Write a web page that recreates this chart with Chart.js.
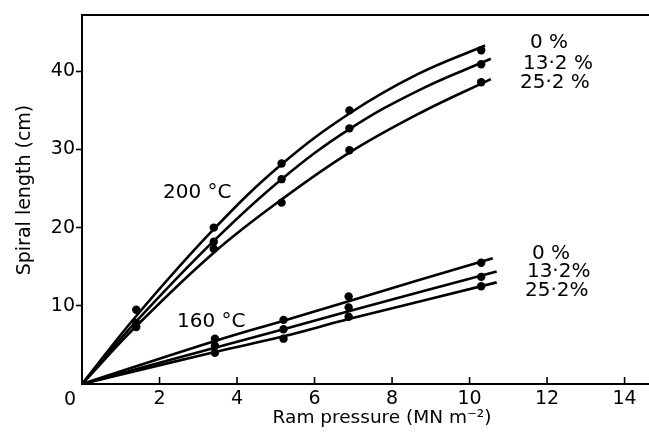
<!DOCTYPE html>
<html>
<head>
<meta charset="utf-8">
<script src="https://cdn.jsdelivr.net/npm/chart.js@4/dist/chart.umd.min.js"></script>
<style>
  html, body { margin: 0; padding: 0; background: #fff; }
  #box { width: 649px; height: 437px; position: relative; }
</style>
</head>
<body>
<div id="box"><canvas id="myChart"></canvas></div>
<script>
// tick values
const xTicks = [0, 2, 4, 6, 8, 10, 12, 14];
const yTicks = [10, 20, 30, 40];

// measured points, 200 C
const dot200x = [1.4, 3.4, 5.15, 6.9, 10.3];
const dot200_0 = [9.5, 20.0, 28.2, 35.0, 42.7];
const dot200_13 = [7.8, 18.2, 26.2, 32.7, 40.9];
const dot200_25 = [7.3, 17.3, 23.2, 29.9, 38.6];

// measured points, 160 C
const dot160x = [3.43, 5.2, 6.88, 10.3];
const dot160_0 = [5.8, 8.2, 11.2, 15.5];
const dot160_13 = [4.9, 7.0, 9.8, 13.7];
const dot160_25 = [4.0, 5.8, 8.6, 12.5];

// fitted curves
const fit200_0x = [0, 1.4, 3.4, 5.15, 6.9, 8.65, 10.4];
const fit200_0y = [0, 8.7, 19.8, 28.1, 34.6, 39.6, 43.3];
const fit200_13x = [0, 1.4, 3.4, 5.15, 6.9, 8.7, 10.55];
const fit200_13y = [0, 8.0, 18.3, 26.2, 32.6, 37.6, 41.6];
const fit200_25x = [0, 1.4, 3.4, 5.15, 6.9, 8.7, 10.55];
const fit200_25y = [0, 7.4, 16.8, 23.6, 29.6, 34.6, 39.0];

const fit160_0x = [0, 3.43, 5.2, 6.88, 10.6];
const fit160_0y = [0, 5.5, 8.1, 10.6, 16.1];
const fit160_13x = [0, 3.43, 5.2, 6.88, 10.7];
const fit160_13y = [0, 4.65, 7.0, 9.3, 14.4];
const fit160_25x = [0, 3.43, 5.2, 6.88, 10.7];
const fit160_25y = [0, 4.1, 6.1, 8.3, 13.0];

const FONT = "'DejaVu Sans', sans-serif";

const pts = (xs, ys) => xs.map((x, i) => ({x: x, y: ys[i]}));

const curve = (xs, ys) => ({
	data: pts(xs, ys),
	showLine: true,
	borderColor: '#000',
	borderWidth: 2.6,
	pointRadius: 0,
	tension: 0.4,
	fill: false
});

const dots = (xs, ys) => ({
	data: pts(xs, ys),
	showLine: false,
	backgroundColor: '#000',
	borderColor: '#000',
	pointRadius: 4.2,
	pointBorderWidth: 0
});

// frame, inward x ticks, titles and curve labels
const extras = {
	id: 'extras',
	afterDraw(chart) {
		const ctx = chart.ctx;
		const a = chart.chartArea;
		const xs = chart.scales.x, ys = chart.scales.y;
		ctx.save();
		ctx.strokeStyle = '#000';
		ctx.lineWidth = 2;
		ctx.beginPath();
		ctx.moveTo(a.left, a.top);
		ctx.lineTo(chart.width, a.top);
		ctx.stroke();

		ctx.lineWidth = 1.6;
		xTicks.forEach(v => {
			if (v === 0) return;
			const px = xs.getPixelForValue(v);
			ctx.beginPath();
			ctx.moveTo(px, a.bottom);
			ctx.lineTo(px, a.bottom - 7);
			ctx.stroke();
		});

		ctx.fillStyle = '#000';
		ctx.textBaseline = 'middle';
		ctx.textAlign = 'center';
		ctx.font = '19px ' + FONT;
		ctx.fillText('0', a.left - 12, a.bottom + 16);

		// axis titles
		ctx.font = '18.5px ' + FONT;
		ctx.fillText('Ram pressure (MN m⁻²)', 382, 418);
		ctx.save();
		ctx.translate(25, 190);
		ctx.rotate(-Math.PI / 2);
		ctx.font = '19px ' + FONT;
		ctx.fillText('Spiral length (cm)', 0, 0);
		ctx.restore();

		const label = (txt, x, y) => {
			ctx.font = '20px ' + FONT;
			ctx.textAlign = 'left';
			ctx.fillText(txt, xs.getPixelForValue(x), ys.getPixelForValue(y));
		};
		label('200 °C', 2.09, 24.4);
		label('160 °C', 2.45, 7.9);
		label('0 %', 11.56, 43.6);
		label('13·2 %', 11.38, 41.0);
		label('25·2 %', 11.3, 38.5);
		label('0 %', 11.61, 16.7);
		label('13·2%', 11.48, 14.3);
		label('25·2%', 11.43, 11.9);
		ctx.restore();
	}
};

const ctx = document.getElementById('myChart').getContext('2d');
const myChart = new Chart(ctx, {
	type: 'scatter',
	data: {
		datasets: [
			curve(fit200_0x, fit200_0y),
			curve(fit200_13x, fit200_13y),
			curve(fit200_25x, fit200_25y),
			curve(fit160_0x, fit160_0y),
			curve(fit160_13x, fit160_13y),
			curve(fit160_25x, fit160_25y),
			dots(dot200x, dot200_0),
			dots(dot200x, dot200_13),
			dots(dot200x, dot200_25),
			dots(dot160x, dot160_0),
			dots(dot160x, dot160_13),
			dots(dot160x, dot160_25)
		]
	},
	options: {
		responsive: true,
		maintainAspectRatio: false,
		animation: false,
		layout: { autoPadding: false, padding: { top: 15, right: 0, left: 0, bottom: 0 } },
		plugins: {
			legend: { display: false },
			tooltip: { enabled: false }
		},
		scales: {
			x: {
				type: 'linear',
				min: 0,
				max: 14.63,
				afterFit: (s) => { s.height = 53; s.paddingLeft = 0; s.paddingRight = 0; },
				afterBuildTicks: (s) => { s.ticks = xTicks.map(v => ({value: v})); },
				grid: { display: true, drawOnChartArea: false, drawTicks: false },
				border: { display: true, color: '#000', width: 2 },
				ticks: {
					color: '#000',
					font: { family: FONT, size: 19 },
					padding: 4,
					maxRotation: 0,
					callback: (v) => v === 0 ? '' : v
				}
			},
			y: {
				type: 'linear',
				min: 0,
				max: 47.2,
				afterFit: (s) => { s.width = 82; s.paddingTop = 0; s.paddingBottom = 0; },
				afterBuildTicks: (s) => { s.ticks = yTicks.map(v => ({value: v})); },
				grid: { display: true, drawOnChartArea: false, drawTicks: true, tickLength: 6, color: '#000', tickWidth: 1.6 },
				border: { display: true, color: '#000', width: 2 },
				ticks: {
					color: '#000',
					font: { family: FONT, size: 19 },
					padding: 1
				}
			}
		}
	},
	plugins: [extras]
});
</script>
</body>
</html>
